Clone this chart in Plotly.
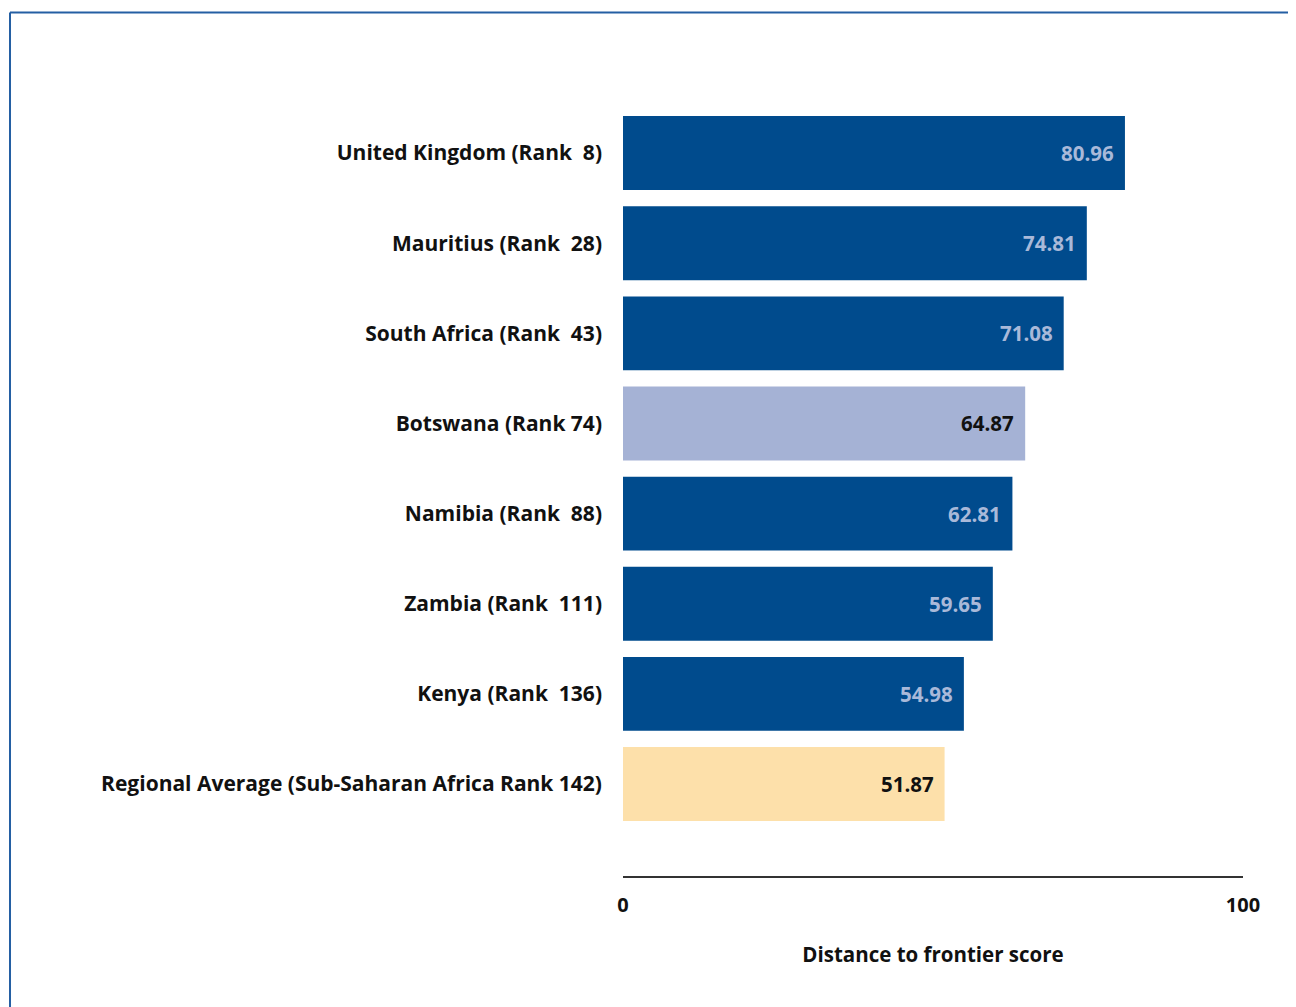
import plotly.graph_objects as go

labels = [
    "United Kingdom (Rank\u00a0 8)",
    "Mauritius (Rank\u00a0 28)",
    "South Africa (Rank\u00a0 43)",
    "Botswana (Rank 74)",
    "Namibia (Rank\u00a0 88)",
    "Zambia (Rank\u00a0 111)",
    "Kenya (Rank\u00a0 136)",
    "Regional Average (Sub-Saharan Africa Rank 142)",
]
scores = [80.96, 74.81, 71.08, 64.87, 62.81, 59.65, 54.98, 51.87]
bar_colors = ["#004b8d", "#004b8d", "#004b8d", "#a5b2d5", "#004b8d", "#004b8d", "#004b8d", "#fde0aa"]
text_colors = ["#a9b9d9", "#a9b9d9", "#a9b9d9", "#111111", "#a9b9d9", "#a9b9d9", "#a9b9d9", "#111111"]

FONT = "Open Sans"
positions = list(range(len(labels)))

fig = go.Figure(
    go.Bar(
        x=scores,
        y=positions,
        orientation="h",
        width=0.82,
        marker=dict(color=bar_colors, line=dict(width=0)),
        hoverinfo="x+y",
    )
)

# value labels just inside the bar ends
for pos, val, tc in zip(positions, scores, text_colors):
    fig.add_annotation(
        x=val, y=pos, text=f"{val:.2f}", showarrow=False,
        xanchor="right", xshift=-9,
        font=dict(family=FONT, size=20.5, color=tc, weight=700),
    )

fig.update_layout(
    width=1296,
    height=1007,
    paper_bgcolor="white",
    plot_bgcolor="white",
    margin=dict(l=615, r=61, t=100, b=139),
    showlegend=False,
    font=dict(family=FONT, size=20, color="#111111", weight=700),
    xaxis=dict(
        range=[0, 100],
        tickvals=[0, 100],
        ticktext=["0", "100"],
        showgrid=False,
        zeroline=False,
        showline=True,
        linecolor="#333333",
        linewidth=2,
        ticks="",
        ticklabelstandoff=10,
        title=dict(text="Distance to frontier score", standoff=31,
                   font=dict(family=FONT, size=20.5, color="#111111", weight=700)),
    ),
    yaxis=dict(
        range=[8.02, -0.5],
        tickvals=positions,
        ticktext=labels,
        tickfont=dict(size=21),
        showgrid=False,
        zeroline=False,
        showline=False,
        ticks="",
        ticklabelstandoff=20,
    ),
    shapes=[
        dict(type="line", xref="paper", yref="paper", x0=-0.9887, x1=1.2, y0=1.1243, y1=1.1243,
             line=dict(color="#245fa3", width=2)),
        dict(type="line", xref="paper", yref="paper", x0=-0.9887, x1=-0.9887, y0=1.1243, y1=-0.3,
             line=dict(color="#245fa3", width=2)),
    ],
)

fig.write_html("out.html")
